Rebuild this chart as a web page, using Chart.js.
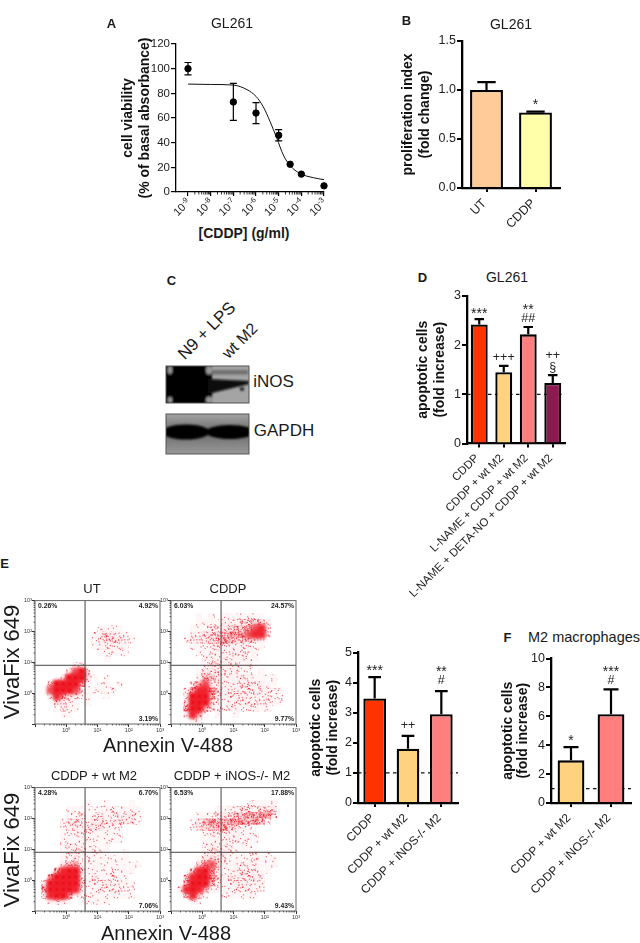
<!DOCTYPE html>
<html>
<head>
<meta charset="utf-8">
<title>GL261 panels</title>
<script src="https://cdn.jsdelivr.net/npm/chart.js@4"></script>
<style>
  html, body { margin: 0; padding: 0; background: #fff; }
  #page { position: relative; width: 640px; height: 943px; overflow: hidden; font-family: "Liberation Sans", Arial, sans-serif; color: #1a1a1a; }
  #page canvas { position: absolute; }
  .t { position: absolute; white-space: nowrap; transform: translate(-50%, -50%); }
  svg { position: absolute; left: 0; top: 0; }
</style>
</head>
<body>
<div id="page"></div>
<script>
// panel A
var doseX = [1e-9, 1e-7, 1e-6, 1e-5, 3.2e-5, 1e-4, 1e-3];
var viability = [100, 73, 64, 46, 22.5, 14.5, 5];
var viabilityErr = [5, 15, 8.5, 4.5, 1, 1, 0.5];
var fitX = [1e-9, 1e-8, 1e-7, 4e-7, 1e-6, 2.1e-6, 4.2e-6, 8.3e-6, 1.6e-5, 3.2e-5, 8.7e-5, 3.4e-4, 1e-3];
var fitY = [87.5, 87.2, 86.7, 83, 77.5, 69, 57, 43.6, 30, 21.4, 15, 11.6, 10];
var doseExp = ['-9', '-8', '-7', '-6', '-5', '-4', '-3'];

// panel B
var prolifCats = ['UT', 'CDDP'];
var prolifVals = [1.0, 0.77];
var prolifErr = [0.08, 0.01];
var prolifMarks = [[], ['*']];

// panel D
var d_cats = ['CDDP', 'CDDP + wt M2', 'L-NAME + CDDP + wt M2', 'L-NAME + DETA-NO + CDDP + wt M2'];
var d_vals = [2.42, 1.45, 2.22, 1.23];
var d_err = [0.11, 0.13, 0.15, 0.16];
var d_marks = [['***'], ['+++'], ['**', '##'], ['++', '§']];

// panel E bars
var e_cats = ['CDDP', 'CDDP + wt M2', 'CDDP + iNOS-/- M2'];
var e_vals = [3.47, 1.8, 2.95];
var e_err = [0.71, 0.43, 0.77];
var e_marks = [['***'], ['++'], ['**', '#']];

// panel F
var f_cats = ['CDDP + wt M2', 'CDDP + iNOS-/- M2'];
var f_vals = [2.95, 6.15];
var f_err = [0.92, 1.72];
var f_marks = [['*'], ['***', '#']];

// flow plots: event density 0-9 per 0.2 decade cell, read by eye, top row first
var flowUT = [
  '....................',
  '....................',
  '....................',
  '....................',
  '..........1111......',
  '.........123321.....',
  '.........1233321....',
  '.........122221.....',
  '..........11111.....',
  '...........1........',
  '......11............',
  '.....2791...........',
  '....399931.1........',
  '..3999961.11.1......',
  '..79997211111.......',
  '..3863211..1........',
  '...3321.1...........',
  '...1211.............',
  '....11..............',
  '....................'
];
var flowCDDP = [
  '....................',
  '....................',
  '....1.1.1111111.....',
  '....111122233442....',
  '...1112233445783....',
  '...2233456667882....',
  '..1233456544321.....',
  '...111232222211.....',
  '....1122222211......',
  '.....122222211......',
  '.....12322212.......',
  '....133322211.1.....',
  '....2553222221111...',
  '...35733222222211...',
  '..1588632222222211..',
  '..3999532222222211..',
  '..3999421222222211..',
  '..69953112212211....',
  '..3851.1..1.........',
  '...11...............'
];
var flowWt = [
  '....................',
  '....................',
  '........1..1...1....',
  '.....111111111111...',
  '.....112112122231...',
  '....1232233233321...',
  '....1232333211......',
  '....1122111111......',
  '....1112211111......',
  '....12221111........',
  '....12221111..1.....',
  '....12311111111.....',
  '....3562111111111...',
  '...5899411111111....',
  '..5999921211211.....',
  '.399999421222211....',
  '.599998211222211....',
  '.389961111111111....',
  '..1221.11111........',
  '....................'
];
var flowInos = [
  '....................',
  '....................',
  '............11111...',
  '.......1112222333...',
  '....1112334455662...',
  '...1356556665651....',
  '...1345564321.......',
  '.....122222111......',
  '.....112222111......',
  '.....12222111.......',
  '.....122311111.1....',
  '....1343211112111...',
  '....4674212222111...',
  '...4896311222211....',
  '..3899632222222.....',
  '..6999421122222.....',
  '.28985211122211.....',
  '..4831..111111......',
  '...11...............',
  '....................'
];
var flowTicks = ['10⁰', '10¹', '10²', '10³'];
var pctUT = ['0.26%', '4.92%', '3.19%'];
var pctCDDP = ['6.03%', '24.57%', '9.77%'];
var pctWt = ['4.28%', '6.70%', '7.06%'];
var pctInos = ['6.53%', '17.88%', '9.43%'];

Chart.defaults.font.family = '"Liberation Sans", Arial, sans-serif';
Chart.defaults.color = '#222';
Chart.defaults.animation = false;

var page = document.getElementById('page');

function label(text, x, y, css) {
  var el = document.createElement('div');
  el.className = 't';
  el.textContent = text;
  el.style.left = x + 'px';
  el.style.top = y + 'px';
  el.style.cssText += css || '';
  page.appendChild(el);
}

function addCanvas(left, top, w, h) {
  var c = document.createElement('canvas');
  c.width = w;
  c.height = h;
  c.style.left = left + 'px';
  c.style.top = top + 'px';
  c.style.width = w + 'px';
  c.style.height = h + 'px';
  page.appendChild(c);
  return c;
}

// box = where the plot area has to sit on the page, canvas = outer rectangle
function frame(box, canvas) {
  return {
    padding: { left: 0, right: canvas.r - box.r, top: box.t - canvas.t, bottom: 0 },
    yWidth: box.l - canvas.l,
    xHeight: canvas.b - box.b
  };
}

function fixX(h) {
  return function (s) { s.height = h; s.paddingLeft = 0; s.paddingRight = 0; };
}
function fixY(w) {
  return function (s) { s.width = w; s.paddingTop = 0; s.paddingBottom = 0; };
}

// bar errors, stars and the dashed line at 1
var barExtras = {
  id: 'barExtras',
  beforeDatasetsDraw: function (chart) {
    var o = chart.options.plugins.barExtras;
    if (!o.dashAt) return;
    var y = chart.scales.y.getPixelForValue(o.dashAt), a = chart.chartArea, ctx = chart.ctx;
    ctx.save();
    ctx.strokeStyle = '#111';
    ctx.lineWidth = 1.3;
    ctx.setLineDash([3.5, 3.5]);
    ctx.beginPath();
    ctx.moveTo(a.left, y);
    ctx.lineTo(a.right, y);
    ctx.stroke();
    ctx.restore();
  },
  afterDatasetsDraw: function (chart) {
    var o = chart.options.plugins.barExtras, ctx = chart.ctx;
    var bars = chart.getDatasetMeta(0).data, vals = chart.data.datasets[0].data, ys = chart.scales.y;
    ctx.save();
    bars.forEach(function (b, i) {
      var top = ys.getPixelForValue(vals[i] + o.err[i]);
      var cap = b.width * 0.28;
      ctx.strokeStyle = '#000';
      ctx.lineWidth = 2.2;
      ctx.beginPath();
      ctx.moveTo(b.x, b.y);
      ctx.lineTo(b.x, top);
      ctx.moveTo(b.x - cap, top);
      ctx.lineTo(b.x + cap, top);
      ctx.stroke();
      var lines = o.marks[i];
      ctx.fillStyle = '#222';
      ctx.textAlign = 'center';
      ctx.textBaseline = 'middle';
      lines.forEach(function (txt, k) {
        var up = (lines.length - 1 - k) * 12;
        var star = txt.indexOf('*') >= 0;
        ctx.font = (star ? 14 : 12.5) + 'px "Liberation Sans", Arial, sans-serif';
        ctx.fillText(txt, b.x, top - o.markGap - up + (star ? 3.5 : 0));
      });
    });
    ctx.restore();
  }
};

function barPanel(id, box, canvas, cats, vals, colors, err, marks, yMax, yStep, yTitle, extra) {
  var f = frame(box, canvas);
  var c = addCanvas(canvas.l, canvas.t, canvas.r - canvas.l, canvas.b - canvas.t);
  return new Chart(c, {
    type: 'bar',
    data: {
      labels: cats,
      datasets: [{
        data: vals,
        backgroundColor: colors,
        borderColor: '#000',
        borderWidth: 2.3,
        borderSkipped: 'bottom',
        barPercentage: extra.barPct,
        categoryPercentage: 1
      }]
    },
    options: {
      responsive: false,
      layout: { padding: f.padding },
      plugins: {
        legend: { display: false },
        tooltip: { enabled: false },
        barExtras: { err: err, marks: marks, dashAt: extra.dashAt, markGap: extra.markGap }
      },
      scales: {
        x: {
          afterFit: fixX(f.xHeight),
          border: { color: '#000', width: 2.3 },
          grid: { drawOnChartArea: false, color: '#000', lineWidth: 2, tickLength: 4, offset: false },
          ticks: { autoSkip: false, minRotation: 45, maxRotation: 45, padding: 4, labelOffset: -2, font: { size: extra.xFont || 11.5 }, color: '#222' }
        },
        y: {
          min: 0,
          max: yMax,
          afterFit: fixY(f.yWidth),
          border: { color: '#000', width: 2.3 },
          grid: { drawOnChartArea: false, color: '#000', lineWidth: 2, tickLength: 5 },
          ticks: { stepSize: yStep, padding: 1, font: { size: 12.5 }, color: '#222', callback: extra.yFmt || function (v) { return v; } },
          title: { display: true, text: yTitle, font: { size: 14, weight: 'bold', lineHeight: extra.titleLine || 1.2 }, color: '#111', padding: { top: extra.titlePad, bottom: 0 } }
        }
      }
    },
    plugins: [barExtras]
  });
}

// minor decade ticks on log axes
function minorTicks(ctx, scale, horizontal, from, to, len, width) {
  ctx.save();
  ctx.strokeStyle = '#000';
  ctx.lineWidth = width;
  ctx.beginPath();
  for (var e = from; e < to; e++) {
    for (var k = 2; k < 10; k++) {
      var p = scale.getPixelForValue(k * Math.pow(10, e));
      if (horizontal) { ctx.moveTo(p, scale.top); ctx.lineTo(p, scale.top + len); }
      else { ctx.moveTo(scale.right, p); ctx.lineTo(scale.right - len, p); }
    }
  }
  ctx.stroke();
  ctx.restore();
}

function decadesOnly(s) {
  s.ticks = s.ticks.filter(function (t) {
    var e = Math.log10(t.value);
    return Math.abs(e - Math.round(e)) < 1e-6;
  });
}

// panel A error bars, minor ticks and the rotated 10^n labels
var doseExtras = {
  id: 'doseExtras',
  beforeDatasetsDraw: function (chart) {
    var ctx = chart.ctx, xs = chart.scales.x, ys = chart.scales.y;
    minorTicks(ctx, xs, true, -9, -3, 2.5, 0.8);
    ctx.save();
    ctx.strokeStyle = '#000';
    ctx.lineWidth = 1.2;
    ctx.beginPath();
    doseX.forEach(function (d, i) {
      if (viabilityErr[i] < 2) return;
      var x = xs.getPixelForValue(d);
      var hi = ys.getPixelForValue(viability[i] + viabilityErr[i]);
      var lo = ys.getPixelForValue(viability[i] - viabilityErr[i]);
      ctx.moveTo(x, hi); ctx.lineTo(x, lo);
      ctx.moveTo(x - 3.5, hi); ctx.lineTo(x + 3.5, hi);
      ctx.moveTo(x - 3.5, lo); ctx.lineTo(x + 3.5, lo);
    });
    ctx.stroke();
    ctx.restore();
  },
  afterDraw: function (chart) {
    var ctx = chart.ctx, xs = chart.scales.x;
    ctx.save();
    ctx.fillStyle = '#222';
    doseExp.forEach(function (exp) {
      var x = xs.getPixelForValue(Math.pow(10, +exp));
      ctx.save();
      ctx.translate(x + 1, xs.top + 9);
      ctx.rotate(-Math.PI / 4);
      ctx.textAlign = 'right';
      ctx.textBaseline = 'middle';
      ctx.font = '7.5px "Liberation Sans", Arial, sans-serif';
      var w = ctx.measureText(exp).width;
      ctx.fillText(exp, 0, -3);
      ctx.font = '11px "Liberation Sans", Arial, sans-serif';
      ctx.fillText('10', -w, 0);
      ctx.restore();
    });
    ctx.restore();
  }
};

function dosePanel() {
  var box = { l: 176, r: 324, t: 44, b: 192 }, canvas = { l: 60, r: 340, t: 30, b: 225 };
  var f = frame(box, canvas);
  var c = addCanvas(canvas.l, canvas.t, canvas.r - canvas.l, canvas.b - canvas.t);
  new Chart(c, {
    type: 'scatter',
    data: {
      datasets: [
        {
          data: fitX.map(function (x, i) { return { x: x, y: fitY[i] }; }),
          showLine: true, pointRadius: 0, borderColor: '#111', borderWidth: 1, tension: 0.4, cubicInterpolationMode: 'monotone', order: 2
        },
        {
          data: doseX.map(function (x, i) { return { x: x, y: viability[i] }; }),
          pointRadius: 3.2, pointBackgroundColor: '#000', pointBorderColor: '#000', clip: false, order: 1
        }
      ]
    },
    options: {
      responsive: false,
      layout: { padding: f.padding },
      plugins: { legend: { display: false }, tooltip: { enabled: false } },
      scales: {
        x: {
          type: 'logarithmic',
          min: 2.95e-10,
          max: 1e-3,
          afterFit: fixX(f.xHeight),
          afterBuildTicks: decadesOnly,
          border: { color: '#000', width: 1.3 },
          grid: { drawOnChartArea: false, color: '#000', lineWidth: 1.2, tickLength: 4 },
          ticks: { autoSkip: false, maxRotation: 0, color: 'rgba(0,0,0,0)', font: { size: 1 }, callback: function () { return ''; } }
        },
        y: {
          min: 0,
          max: 120,
          afterFit: fixY(f.yWidth),
          border: { color: '#000', width: 1.3 },
          grid: { drawOnChartArea: false, color: '#000', lineWidth: 1.2, tickLength: 5 },
          ticks: { stepSize: 20, padding: 1, font: { size: 11.5 }, color: '#222' },
          title: { display: true, text: ['cell viability', '(% of basal absorbance)'], font: { size: 14, weight: 'bold' }, color: '#111', padding: { top: 60, bottom: 0 } }
        }
      }
    },
    plugins: [doseExtras]
  });
}

// fill for a density level: grain is only a texture for the cells, the densities come from the grids
function stipple(level) {
  if (level === 9) return 'rgb(238,16,28)';
  if (level === 8) return 'rgba(238,16,28,0.9)';
  if (level === 7) return 'rgba(238,16,28,0.75)';
  var size = 64, t = document.createElement('canvas');
  t.width = size;
  t.height = size;
  var g = t.getContext('2d');
  g.fillStyle = 'rgba(235,25,40,' + [0.04, 0.06, 0.09, 0.13, 0.2, 0.3][level - 1] + ')';
  g.fillRect(0, 0, size, size);
  var count = [220, 420, 680, 1000, 1450, 2000][level - 1];
  g.fillStyle = 'rgba(235,25,40,0.7)';
  for (var i = 1; i <= count; i++) {
    var px = Math.sin(i * 12.9898) * 43758.5453;
    var py = Math.sin(i * 78.233) * 12543.1234;
    g.fillRect((px - Math.floor(px)) * size, (py - Math.floor(py)) * size, 1.1, 1.1);
  }
  return g.createPattern(t, 'repeat');
}
var stipples = [1, 2, 3, 4, 5, 6, 7, 8, 9].map(stipple);

// gates, frame, percent labels for a flow plot
var flowExtras = {
  id: 'flowExtras',
  beforeDatasetDraw: function (chart, args) {
    chart.ctx.filter = args.index >= 6 ? 'blur(1.5px)' : 'none';
  },
  afterDatasetDraw: function (chart) {
    chart.ctx.filter = 'none';
  },
  afterDatasetsDraw: function (chart) {
    var o = chart.options.plugins.flowExtras, ctx = chart.ctx, a = chart.chartArea;
    var xs = chart.scales.x, ys = chart.scales.y;
    ctx.save();
    ctx.strokeStyle = '#444';
    ctx.lineWidth = 1;
    ctx.beginPath();
    ctx.moveTo(xs.getPixelForValue(o.gateX), a.top);
    ctx.lineTo(xs.getPixelForValue(o.gateX), a.bottom);
    ctx.moveTo(a.left, ys.getPixelForValue(o.gateY));
    ctx.lineTo(a.right, ys.getPixelForValue(o.gateY));
    ctx.stroke();
    ctx.strokeStyle = '#666';
    ctx.strokeRect(a.left, a.top, a.right - a.left, a.bottom - a.top);
    minorTicks(ctx, xs, true, -1, 3, 1.5, 0.6);
    minorTicks(ctx, ys, false, -1, 3, 1.5, 0.6);
    ctx.fillStyle = '#222';
    ctx.font = 'bold 6.8px "Liberation Sans", Arial, sans-serif';
    ctx.textBaseline = 'middle';
    ctx.textAlign = 'left';
    ctx.fillText(o.pct[0], a.left + 3, a.top + 5.5);
    ctx.textAlign = 'right';
    ctx.fillText(o.pct[1], a.right - 2, a.top + 5.5);
    ctx.fillText(o.pct[2], a.right - 2, a.bottom - 5);
    ctx.restore();
  }
};

function flowPanel(rows, pct, left, top) {
  var box = { l: left, r: left + 125, t: top, b: top + 125 };
  var canvas = { l: left - 16, r: left + 131, t: top - 4, b: top + 133 };
  var f = frame(box, canvas);
  var c = addCanvas(canvas.l, canvas.t, canvas.r - canvas.l, canvas.b - canvas.t);
  var byLevel = [[], [], [], [], [], [], [], [], []];
  rows.forEach(function (row, r) {
    row.split('').forEach(function (ch, col) {
      if (ch === '.') return;
      byLevel[+ch - 1].push({
        x: Math.pow(10, -1 + 0.2 * (col + 0.5)),
        y: Math.pow(10, 3 - 0.2 * (r + 0.5))
      });
    });
  });
  var sets = byLevel.map(function (pts, i) {
    return {
      data: pts,
      pointStyle: 'rect',
      pointRadius: i >= 6 ? 5.6 : 4.42,
      pointBorderWidth: 0,
      pointBackgroundColor: stipples[i]
    };
  });
  var logAxis = {
    type: 'logarithmic',
    min: 0.1,
    max: 1000,
    afterBuildTicks: decadesOnly,
    border: { display: false },
    grid: { drawOnChartArea: false, color: '#000', lineWidth: 0.8, tickLength: 3 },
    ticks: {
      autoSkip: false, maxRotation: 0, padding: 0, font: { size: 5.5 }, color: '#333',
      callback: function (v) { var e = Math.round(Math.log10(v)); return e < 0 ? '' : flowTicks[e]; }
    }
  };
  new Chart(c, {
    type: 'scatter',
    data: { datasets: sets },
    options: {
      responsive: false,
      layout: { padding: f.padding },
      plugins: {
        legend: { display: false },
        tooltip: { enabled: false },
        flowExtras: { gateX: 4, gateY: 8, pct: pct }
      },
      scales: {
        x: Object.assign({}, logAxis, { afterFit: fixX(f.xHeight) }),
        y: Object.assign({}, logAxis, { afterFit: fixY(f.yWidth) })
      }
    },
    plugins: [flowExtras]
  });
}

function blot() {
  var s = '<svg width="640" height="943" xmlns="http://www.w3.org/2000/svg">' +
    '<defs><filter id="bl" x="-20%" y="-40%" width="140%" height="180%"><feGaussianBlur stdDeviation="1.2"/></filter>' +
    '<linearGradient id="g2" x1="0" y1="0" x2="0" y2="1"><stop offset="0" stop-color="#a4a4a4"/><stop offset="0.45" stop-color="#6a6a6a"/><stop offset="1" stop-color="#999"/></linearGradient>' +
    '<clipPath id="c1"><rect x="166" y="366" width="83" height="37"/></clipPath>' +
    '<clipPath id="c2"><rect x="166" y="414" width="83" height="40"/></clipPath></defs>' +
    '<rect x="166" y="366" width="83" height="37" fill="#a4a4a4"/>' +
    '<g clip-path="url(#c1)"><g filter="url(#bl)">' +
    '<rect x="212" y="370" width="36" height="4.5" fill="#707070"/>' +
    '<rect x="160" y="360" width="52" height="48" fill="#000"/>' +
    '<path d="M208 379 L249 381 L249 384 L208 394 Z" fill="#0a0a0a"/>' +
    '<circle cx="242" cy="389" r="2" fill="#222"/>' +
    '<ellipse cx="170" cy="370" rx="2.2" ry="4" fill="#999"/>' +
    '<ellipse cx="170" cy="400" rx="2.2" ry="3" fill="#999"/>' +
    '<ellipse cx="209" cy="370" rx="3" ry="4.5" fill="#999"/>' +
    '<ellipse cx="209" cy="400" rx="3" ry="3.5" fill="#999"/>' +
    '</g></g>' +
    '<rect x="166" y="366" width="83" height="37" fill="none" stroke="#555" stroke-width="1"/>' +
    '<rect x="166" y="414" width="83" height="40" fill="url(#g2)"/>' +
    '<g clip-path="url(#c2)"><g filter="url(#bl)">' +
    '<ellipse cx="186" cy="432" rx="24" ry="7.5" fill="#000"/>' +
    '<ellipse cx="230" cy="432" rx="24" ry="7" fill="#000"/>' +
    '<rect x="160" y="428" width="10" height="8" fill="#000"/>' +
    '<rect x="246" y="428" width="10" height="8" fill="#000"/>' +
    '</g></g>' +
    '<rect x="166" y="414" width="83" height="40" fill="none" stroke="#555" stroke-width="1"/>' +
    '</svg>';
  page.insertAdjacentHTML('beforeend', s);
}

blot();
dosePanel();

barPanel('B', { l: 462, r: 560, t: 41, b: 188 }, { l: 395, r: 570, t: 30, b: 240 },
  prolifCats, prolifVals, ['#FFCC99', '#FFFFAA'], prolifErr, prolifMarks, 1.5, 0.5,
  ['proliferation index', '(fold change)'],
  { barPct: 0.67, titlePad: 5, yFmt: function (v) { return v.toFixed(1); }, markGap: 10, xFont: 12.5 });

barPanel('D', { l: 467, r: 565, t: 296, b: 443.5 }, { l: 390, r: 575, t: 285, b: 620 },
  d_cats, d_vals, ['#FF3300', '#FFD27F', '#FF7F7F', '#8B1A50'], d_err, d_marks, 3, 1,
  ['apoptotic cells', '(fold increase)'],
  { barPct: 0.69, titlePad: 25, dashAt: 1, markGap: 8 });

barPanel('E', { l: 358, r: 458, t: 652.5, b: 803 }, { l: 300, r: 468, t: 640, b: 900 },
  e_cats, e_vals, ['#FF3300', '#FFD27F', '#FF7F7F'], e_err, e_marks, 5, 1,
  ['apoptotic cells', '(fold increase)'],
  { barPct: 0.68, titlePad: 8, dashAt: 1, markGap: 10, xFont: 12 });

barPanel('F', { l: 551, r: 631, t: 658.5, b: 803 }, { l: 490, r: 640, t: 645, b: 900 },
  f_cats, f_vals, ['#FFD27F', '#FF7F7F'], f_err, f_marks, 10, 2,
  ['apoptotic cells', '(fold increase)'],
  { barPct: 0.67, titlePad: 10, titleLine: 1.1, dashAt: 1, markGap: 9, xFont: 12 });

flowPanel(flowUT, pctUT, 34.5, 598.5);
flowPanel(flowCDDP, pctCDDP, 171, 598.5);
flowPanel(flowWt, pctWt, 35, 786);
flowPanel(flowInos, pctInos, 170.5, 786);

// text outside the plots
label('A', 111.5, 23, 'font-weight:bold;font-size:13px');
label('B', 406.5, 20, 'font-weight:bold;font-size:13px');
label('C', 171.5, 280, 'font-weight:bold;font-size:13px');
label('D', 422.5, 277, 'font-weight:bold;font-size:13px');
label('E', 4.5, 563, 'font-weight:bold;font-size:13px');
label('F', 507.5, 637, 'font-weight:bold;font-size:13px');
label('GL261', 232, 23, 'font-size:14px');
label('GL261', 511, 24, 'font-size:14px');
label('GL261', 507, 277, 'font-size:14px');
label('M2 macrophages', 584, 637, 'font-size:14.5px');
label('[CDDP] (g/ml)', 244, 233, 'font-weight:bold;font-size:14px');
label('N9 + LPS', 207, 331, 'font-size:17px;transform:translate(-50%,-50%) rotate(-45deg)');
label('wt M2', 240, 341, 'font-size:16px;transform:translate(-50%,-50%) rotate(-45deg)');
label('iNOS', 273.5, 382, 'font-size:17px');
label('GAPDH', 284, 431, 'font-size:17px');
label('UT', 92, 588, 'font-size:13px');
label('CDDP', 228, 588, 'font-size:13px');
label('CDDP + wt M2', 94, 775, 'font-size:13px');
label('CDDP + iNOS-/- M2', 232, 775, 'font-size:13px');
label('Annexin V-488', 168, 745, 'font-size:20px');
label('Annexin V-488', 166, 933, 'font-size:20px');
label('VivaFix 649', 12, 662, 'font-size:22px;transform:translate(-50%,-50%) rotate(-90deg)');
label('VivaFix 649', 12, 850, 'font-size:22px;transform:translate(-50%,-50%) rotate(-90deg)');
</script>
</body>
</html>
